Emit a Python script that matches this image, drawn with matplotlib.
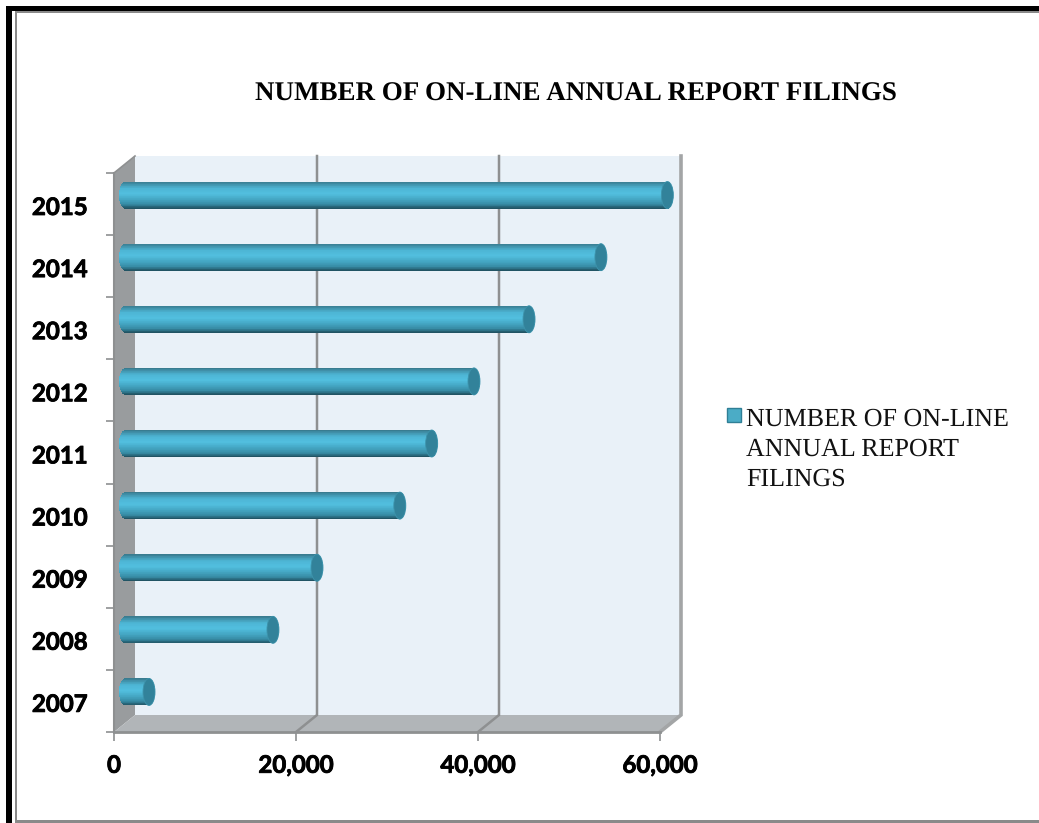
import numpy as np
import matplotlib
matplotlib.use('Agg')
import matplotlib.pyplot as plt
import matplotlib.patheffects as pe
from matplotlib.patches import Ellipse, Polygon, Rectangle
from matplotlib.colors import LinearSegmentedColormap
from matplotlib.transforms import Affine2D

plt.rcParams['text.hinting'] = 'no_hinting'
plt.rcParams['text.hinting_factor'] = 1

years = ['2007', '2008', '2009', '2010', '2011', '2012', '2013', '2014', '2015']
filings = [2640, 16260, 21100, 30200, 33700, 38350, 44400, 52300, 59600]
x_ticks = [0, 20000, 40000, 60000]
title = 'NUMBER OF ON-LINE ANNUAL REPORT FILINGS'
legend_lines = ['NUMBER OF ON-LINE', 'ANNUAL REPORT', 'FILINGS']

W, H = 1039, 823

# plot box in pixels (front of the fake 3D box)
LEFT, RIGHT, TOP, BOTTOM = 114, 660, 173, 732

fig = plt.figure(figsize=(W / 100, H / 100), dpi=100, facecolor='white')
ax = fig.add_axes([LEFT / W, 1 - BOTTOM / H, (RIGHT - LEFT) / W, (BOTTOM - TOP) / H])
ax.set_xlim(0, 60000)
ax.set_ylim(-0.5, 8.5)
ax.patch.set_visible(False)
for s in ax.spines.values():
    s.set_visible(False)

px_x = 60000 / (RIGHT - LEFT)
px_y = 9 / (BOTTOM - TOP)
depth_x = 21 * px_x
depth_y = 17 * px_y
y0, y1 = -0.5, 8.5
x1 = 60000
GRID = '#8e9091'

# walls
ax.add_patch(Rectangle((depth_x, y0 + depth_y), x1, y1 - y0, fc='#e9f1f8', ec='none', clip_on=False, zorder=1))
ax.add_patch(Polygon([(0, y0), (depth_x, y0 + depth_y), (depth_x, y1 + depth_y), (0, y1)],
                     fc='#999c9e', ec='none', clip_on=False, zorder=2))
ax.add_patch(Polygon([(0, y0), (x1, y0), (x1 + depth_x, y0 + depth_y), (depth_x, y0 + depth_y)],
                     fc='#b1b5b8', ec='none', clip_on=False, zorder=2))

# grid lines on back wall and floor
for t in x_ticks[1:]:
    light = t == x_ticks[-1]
    ax.plot([t, t + depth_x, t + depth_x], [y0, y0 + depth_y, y1 + depth_y],
            color='#a3a5a6' if light else GRID, lw=2.6 if light else 1.8,
            clip_on=False, zorder=3, solid_joinstyle='miter')
ax.plot([0, x1], [y0, y0], color=GRID, lw=2, clip_on=False, zorder=3)
ax.plot([0, 0], [y0, y1], color=GRID, lw=1.5, clip_on=False, zorder=3)
ax.plot([0, depth_x], [y1, y1 + depth_y], color=GRID, lw=1.2, clip_on=False, zorder=3)

# cylinders, built from thin horizontal strips
bar_cmap = LinearSegmentedColormap.from_list('cyl', [
    (0.0, '#38798c'), (0.08, '#3f8ea6'), (0.25, '#4db5d4'), (0.45, '#52bfdf'),
    (0.65, '#45a8c5'), (0.85, '#378ba4'), (0.93, '#2a6c80'), (1.0, '#1f4f5e')])
bar_off_x = 11 * px_x
bar_off_y = 9 * px_y
bar_h = 27 * px_y
cap = 6 * px_x
n_strips = 40
edges = np.linspace(-1, 1, n_strips + 1)
for i, val in enumerate(filings):
    yc = i + bar_off_y
    xl = bar_off_x
    xr = bar_off_x + val
    for k in range(n_strips):
        t = (edges[k] + edges[k + 1]) / 2
        bow = cap * np.sqrt(1 - t * t)
        ax.barh(yc - t * bar_h / 2, (xr + bow) - (xl - bow), left=xl - bow,
                height=bar_h / n_strips * 1.15, color=bar_cmap((t + 1) / 2),
                lw=0, clip_on=False, zorder=5)
    ax.add_patch(Ellipse((xr, yc), 2 * cap, bar_h, fc='#32829a', ec='#3d93ab', lw=0.6,
                         clip_on=False, zorder=6))

# ticks and labels, Lato bold is a bit thin so give it a small stroke
ax.set_xticks(x_ticks)
ax.set_xticklabels([f'{t:,}' for t in x_ticks], family='Lato', fontweight='bold', fontsize=17.3)
ax.set_yticks(range(len(years)))
ax.set_yticklabels(years, family='Lato', fontweight='bold', fontsize=17.3)
ax.set_yticks(np.arange(-0.5, 9), minor=True)
ax.tick_params(axis='x', length=6.5, width=1.2, color=GRID, pad=10)
ax.tick_params(axis='y', which='major', length=0, pad=19)
ax.tick_params(axis='y', which='minor', length=6, width=1.2, color=GRID)
for lab in ax.get_yticklabels():
    lab.set_transform(lab.get_transform() + Affine2D().translate(0, -2))
for lab in ax.get_xticklabels() + ax.get_yticklabels():
    lab.set_path_effects([pe.withStroke(linewidth=0.6, foreground='black')])

fig.text(576 / W, 1 - 94 / H, title, family='Liberation Serif', fontweight='bold',
         fontsize=19.1, ha='center', va='center', color='black')

# legend
fig.add_artist(Rectangle((727 / W, 1 - 422 / H), 14 / W, 14 / H, transform=fig.transFigure,
                         fc='#4bacc6', ec='#2f7f96', lw=1))
for line, py in zip(legend_lines, [419, 449, 479]):
    fig.text(746 / W, 1 - py / H, line, family='Liberation Serif', fontsize=18.8,
             ha='left', va='center', color='#111111')

# page border
for x, y, w, h, c in [(6, 6, 1033, 5, 'black'), (6, 6, 6, 817, 'black'),
                      (15, 11, 1024, 2, '#8a8a8a'), (15, 11, 2, 812, '#8a8a8a'),
                      (15, 820, 1024, 3, '#8a8a8a')]:
    fig.add_artist(Rectangle((x / W, 1 - (y + h) / H), w / W, h / H, transform=fig.transFigure,
                             fc=c, ec='none'))

fig.savefig('out.png', dpi=100)
